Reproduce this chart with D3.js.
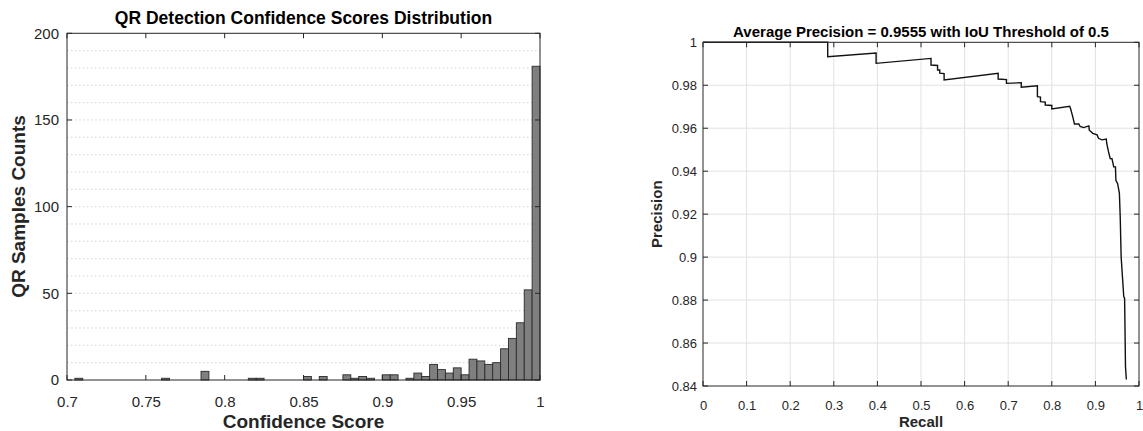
<!DOCTYPE html>
<html>
<head>
<meta charset="utf-8">
<script src="https://cdn.jsdelivr.net/npm/d3@7/dist/d3.min.js"></script>
<style>
  body { margin: 0; background: #fff; }
  svg { display: block; font-family: "Liberation Sans", Arial, Helvetica, sans-serif; }
</style>
</head>
<body>
<svg id="chart" width="1143" height="431"></svg>
<script>
// ---- Histogram data: left edge of each 0.005-wide bin and its sample count ----
const binEdges = [
  0.700, 0.705, 0.710, 0.715, 0.720, 0.725, 0.730, 0.735, 0.740, 0.745,
  0.750, 0.755, 0.760, 0.765, 0.770, 0.775, 0.780, 0.785, 0.790, 0.795,
  0.800, 0.805, 0.810, 0.815, 0.820, 0.825, 0.830, 0.835, 0.840, 0.845,
  0.850, 0.855, 0.860, 0.865, 0.870, 0.875, 0.880, 0.885, 0.890, 0.895,
  0.900, 0.905, 0.910, 0.915, 0.920, 0.925, 0.930, 0.935, 0.940, 0.945,
  0.950, 0.955, 0.960, 0.965, 0.970, 0.975, 0.980, 0.985, 0.990, 0.995, 1.000
];
const binCounts = [
  0, 1, 0, 0, 0, 0, 0, 0, 0, 0,
  0, 0, 1, 0, 0, 0, 0, 5, 0, 0,
  0, 0, 0, 1, 1, 0, 0, 0, 0, 0,
  2, 0, 2, 0, 0, 3, 1, 2, 1, 0,
  3, 3, 0, 1, 4, 2, 9, 6, 4, 7,
  3, 12, 11, 9, 10, 18, 24, 33, 52, 181
];
const scoreTicks = [0.7, 0.75, 0.8, 0.85, 0.9, 0.95, 1];
const countTicks = [0, 50, 100, 150, 200];

// ---- Precision-recall curve vertices ----
const recall = [
  0, 0.286, 0.286, 0.397, 0.397, 0.523, 0.523, 0.538, 0.538, 0.543,
  0.543, 0.553, 0.553, 0.677, 0.677, 0.696, 0.696, 0.730, 0.730, 0.767,
  0.767, 0.774, 0.774, 0.785, 0.785, 0.800, 0.800, 0.841, 0.843, 0.848,
  0.852, 0.862, 0.865, 0.873, 0.885, 0.886, 0.894, 0.904, 0.907, 0.915,
  0.925, 0.926, 0.930, 0.934, 0.938, 0.942, 0.946, 0.947, 0.951, 0.955,
  0.957, 0.959, 0.962, 0.965, 0.967, 0.969, 0.971
];
const precision = [
  1, 1, 0.9933, 0.9950, 0.9902, 0.9925, 0.9894, 0.9892, 0.9871, 0.9871,
  0.9856, 0.9854, 0.9825, 0.9856, 0.9829, 0.9826, 0.9809, 0.9812, 0.9791, 0.9798,
  0.9747, 0.9745, 0.9724, 0.9722, 0.9708, 0.9706, 0.9690, 0.9702, 0.9692, 0.9654,
  0.9620, 0.9620, 0.9608, 0.9603, 0.9611, 0.9591, 0.9576, 0.9569, 0.9553, 0.9546,
  0.9550, 0.9529, 0.9491, 0.9459, 0.9458, 0.9420, 0.9420, 0.9357, 0.9342, 0.9298,
  0.9182, 0.9003, 0.8910, 0.8817, 0.8808, 0.8490, 0.8430
];
const recallTicks = [0, 0.1, 0.2, 0.3, 0.4, 0.5, 0.6, 0.7, 0.8, 0.9, 1];
const precisionTicks = [0.84, 0.86, 0.88, 0.9, 0.92, 0.94, 0.96, 0.98, 1];

const svg = d3.select("#chart");
const axisColor = "#262626";
const tickLen = 5;

// Draws a boxed frame with inward ticks on all four sides.
function drawFrame(g, x, y, xTicks, yTicks) {
  const [x0, x1] = x.range();
  const [y0, y1] = y.range(); // y0 bottom, y1 top
  g.append("rect")
    .attr("x", x0).attr("y", y1)
    .attr("width", x1 - x0).attr("height", y0 - y1)
    .attr("fill", "none").attr("stroke", axisColor).attr("stroke-width", 1);
  const ticks = g.append("g").attr("stroke", axisColor).attr("stroke-width", 1);
  xTicks.forEach(t => {
    const px = x(t);
    ticks.append("line").attr("x1", px).attr("x2", px).attr("y1", y0).attr("y2", y0 - tickLen);
    ticks.append("line").attr("x1", px).attr("x2", px).attr("y1", y1).attr("y2", y1 + tickLen);
  });
  yTicks.forEach(t => {
    const py = y(t);
    ticks.append("line").attr("x1", x0).attr("x2", x0 + tickLen).attr("y1", py).attr("y2", py);
    ticks.append("line").attr("x1", x1).attr("x2", x1 - tickLen).attr("y1", py).attr("y2", py);
  });
}

// ================= Left: confidence score histogram =================
{
  const x = d3.scaleLinear().domain([0.7, 1]).range([67, 540]);
  const y = d3.scaleLinear().domain([0, 200]).range([380, 33.3]);
  const g = svg.append("g");

  // dotted minor grid every 10 counts
  g.append("g").selectAll("line")
    .data(d3.range(10, 200, 10))
    .join("line")
    .attr("x1", x(0.7)).attr("x2", x(1))
    .attr("y1", d => y(d)).attr("y2", d => y(d))
    .attr("stroke", "#d4d4d4").attr("stroke-width", 1)
    .attr("stroke-dasharray", "1.5,2.5");

  const bins = binCounts.map((c, i) => ({ x0: binEdges[i], x1: binEdges[i + 1], count: c }));
  g.append("g").selectAll("rect")
    .data(bins)
    .join("rect")
    .attr("x", d => x(d.x0))
    .attr("width", d => x(d.x1) - x(d.x0))
    .attr("y", d => y(d.count))
    .attr("height", d => y(0) - y(d.count))
    .attr("fill", "#7f7f7f")
    .attr("stroke", "#2b2b2b")
    .attr("stroke-width", 0.9);

  drawFrame(g, x, y, scoreTicks, countTicks);

  g.append("g").attr("transform", "translate(0,380)")
    .call(d3.axisBottom(x).tickValues(scoreTicks).tickSize(0).tickPadding(16)
      .tickFormat(d => String(d)))
    .call(a => a.select(".domain").remove())
    .selectAll("text").attr("font-size", 15).attr("fill", axisColor)
    .attr("font-family", "Liberation Sans, Arial, sans-serif");

  g.append("g").attr("transform", "translate(67,0)")
    .call(d3.axisLeft(y).tickValues(countTicks).tickSize(0).tickPadding(8))
    .call(a => a.select(".domain").remove())
    .selectAll("text").attr("font-size", 15).attr("fill", axisColor)
    .attr("font-family", "Liberation Sans, Arial, sans-serif");

  g.append("text")
    .attr("x", (67 + 540) / 2).attr("y", 24)
    .attr("text-anchor", "middle").attr("font-weight", "bold").attr("font-size", 17.5)
    .attr("fill", "#000")
    .text("QR Detection Confidence Scores Distribution");

  g.append("text")
    .attr("x", (67 + 540) / 2).attr("y", 428)
    .attr("text-anchor", "middle").attr("font-weight", "bold").attr("font-size", 19)
    .attr("fill", axisColor)
    .text("Confidence Score");

  g.append("text")
    .attr("transform", `translate(25,${(33 + 380) / 2}) rotate(-90)`)
    .attr("text-anchor", "middle").attr("font-weight", "bold").attr("font-size", 19)
    .attr("fill", axisColor)
    .text("QR Samples Counts");
}

// ================= Right: precision-recall curve =================
{
  const x = d3.scaleLinear().domain([0, 1]).range([703, 1139]);
  const y = d3.scaleLinear().domain([0.84, 1]).range([386, 42.3]);
  const g = svg.append("g");

  const grid = g.append("g").attr("stroke", "#e2e2e2").attr("stroke-width", 1);
  recallTicks.slice(1, -1).forEach(t => {
    grid.append("line").attr("x1", x(t)).attr("x2", x(t)).attr("y1", y(0.84)).attr("y2", y(1));
  });
  precisionTicks.slice(1, -1).forEach(t => {
    grid.append("line").attr("x1", x(0)).attr("x2", x(1)).attr("y1", y(t)).attr("y2", y(t));
  });

  const pts = recall.map((r, i) => [r, precision[i]]);
  g.append("path")
    .datum(pts)
    .attr("d", d3.line().x(d => x(d[0])).y(d => y(d[1])))
    .attr("fill", "none").attr("stroke", "#111").attr("stroke-width", 1.4)
    .attr("stroke-linejoin", "miter");

  drawFrame(g, x, y, recallTicks, precisionTicks);

  g.append("g").attr("transform", "translate(0,386)")
    .call(d3.axisBottom(x).tickValues(recallTicks).tickSize(0).tickPadding(15)
      .tickFormat(d => String(d)))
    .call(a => a.select(".domain").remove())
    .selectAll("text").attr("font-size", 13).attr("fill", axisColor)
    .attr("font-family", "Liberation Sans, Arial, sans-serif");

  g.append("g").attr("transform", "translate(703,0)")
    .call(d3.axisLeft(y).tickValues(precisionTicks).tickSize(0).tickPadding(6)
      .tickFormat(d => String(+d.toFixed(2))))
    .call(a => a.select(".domain").remove())
    .selectAll("text").attr("font-size", 13).attr("fill", axisColor)
    .attr("font-family", "Liberation Sans, Arial, sans-serif");

  g.append("text")
    .attr("x", (703 + 1139) / 2).attr("y", 36.5)
    .attr("text-anchor", "middle").attr("font-weight", "bold").attr("font-size", 15)
    .attr("fill", "#000")
    .text("Average Precision = 0.9555 with IoU Threshold of 0.5");

  g.append("text")
    .attr("x", (703 + 1139) / 2).attr("y", 427)
    .attr("text-anchor", "middle").attr("font-weight", "bold").attr("font-size", 15)
    .attr("fill", axisColor)
    .text("Recall");

  g.append("text")
    .attr("transform", `translate(662,${(42.3 + 386) / 2}) rotate(-90)`)
    .attr("text-anchor", "middle").attr("font-weight", "bold").attr("font-size", 15)
    .attr("fill", axisColor)
    .text("Precision");
}
</script>
</body>
</html>
